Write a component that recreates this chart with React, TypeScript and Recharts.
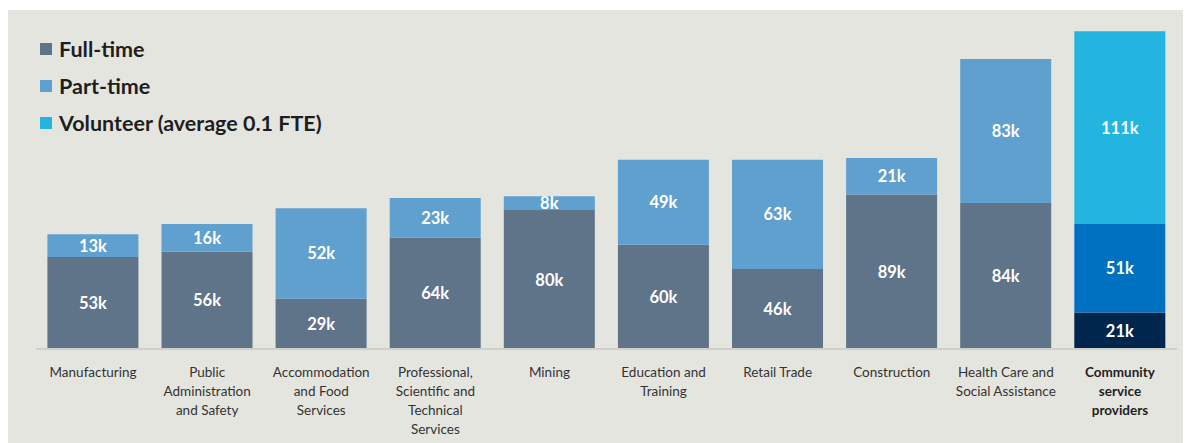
import React from "react";
import { BarChart, Bar, XAxis, YAxis, Legend, LabelList, Cell } from "recharts";

const categories = [
  "Manufacturing",
  "Public Administration and Safety",
  "Accommodation and Food Services",
  "Professional, Scientific and Technical Services",
  "Mining",
  "Education and Training",
  "Retail Trade",
  "Construction",
  "Health Care and Social Assistance",
  "Community service providers",
];
const tickLines: string[][] = [
  ["Manufacturing"],
  ["Public", "Administration", "and Safety"],
  ["Accommodation", "and Food", "Services"],
  ["Professional,", "Scientific and", "Technical", "Services"],
  ["Mining"],
  ["Education and", "Training"],
  ["Retail Trade"],
  ["Construction"],
  ["Health Care and", "Social Assistance"],
  ["Community", "service", "providers"],
];
const fullTime = [53, 56, 29, 64, 80, 60, 46, 89, 84, 21];
const partTime = [13, 16, 52, 23, 8, 49, 63, 21, 83, 51];
const volunteer = [0, 0, 0, 0, 0, 0, 0, 0, 0, 111];
const seriesNames = ["Full-time", "Part-time", "Volunteer (average 0.1 FTE)"];

const C_FT = "#5f7389";
const C_PT = "#5fa0cf";
const C_VOL = "#24b4e0";
const C_FT_HL = "#00264e";
const C_PT_HL = "#0071c0";
const HL_INDEX = 9;

const data = categories.map((c, i) => ({
  name: c,
  ft: fullTime[i],
  pt: partTime[i],
  vol: volunteer[i],
}));

const FONT = "Lato, 'Noto Sans', sans-serif";

const ValueLabel = (props: any) => {
  const { x, y, width, height, value } = props;
  if (!value) return null;
  return (
    <text
      x={x + width / 2}
      y={y + height / 2}
      dy={6}
      textAnchor="middle"
      fill="#ffffff"
      fontFamily={FONT}
      fontWeight={700}
      fontSize={16.5}
    >
      {`${value}k`}
    </text>
  );
};

const CategoryTick = (props: any) => {
  const { x, y, payload, index } = props;
  const lines = tickLines[index] || [String(payload.value)];
  const hl = index === HL_INDEX;
  return (
    <text
      x={x}
      y={y}
      textAnchor="middle"
      fill={hl ? "#1e1e1e" : "#333333"}
      fontFamily={FONT}
      fontWeight={hl ? 700 : 400}
      fontSize={13.5}
    >
      {lines.map((l, k) => (
        <tspan key={k} x={x} dy={k === 0 ? 28 : 19}>
          {l}
        </tspan>
      ))}
    </text>
  );
};

const LegendContent = () => {
  const cols = [C_FT, C_PT, C_VOL];
  return (
    <div style={{ fontFamily: FONT }}>
      {seriesNames.map((n, i) => (
        <div
          key={n}
          style={{
            display: "flex",
            alignItems: "center",
            height: 37,
            fontSize: 21.5,
            fontWeight: 700,
            color: "#1e1e1e",
            whiteSpace: "nowrap",
          }}
        >
          <span
            style={{
              display: "inline-block",
              width: 12,
              height: 12,
              background: cols[i],
              marginRight: 7,
            }}
          />
          {n}
        </div>
      ))}
    </div>
  );
};

export default function App() {
  return (
    <div style={{ marginTop: 2, width: 1183, height: 433, background: "#e5e5e0" }}>
      <BarChart
        width={1183}
        height={433}
        data={data}
        margin={{ top: 9, right: 14, left: 28, bottom: 0 }}
        barCategoryGap="10%"
      >
        <XAxis
          dataKey="name"
          height={94}
          tickLine={false}
          tickSize={0}
          tickMargin={0}
          axisLine={{ stroke: "#cfcfcb", strokeWidth: 2 }}
          interval={0}
          tick={<CategoryTick />}
        />
        <YAxis hide domain={[0, 190]} />
        <Legend
          layout="vertical"
          align="center"
          verticalAlign="middle"
          content={<LegendContent />}
          wrapperStyle={{ position: "absolute", top: 20, left: 32, width: 420, height: 120 }}
        />
        <Bar dataKey="ft" stackId="a" fill={C_FT} isAnimationActive={false}>
          {data.map((d, i) => (
            <Cell key={i} fill={i === HL_INDEX ? C_FT_HL : C_FT} />
          ))}
          <LabelList dataKey="ft" content={<ValueLabel />} />
        </Bar>
        <Bar dataKey="pt" stackId="a" fill={C_PT} isAnimationActive={false}>
          {data.map((d, i) => (
            <Cell key={i} fill={i === HL_INDEX ? C_PT_HL : C_PT} />
          ))}
          <LabelList dataKey="pt" content={<ValueLabel />} />
        </Bar>
        <Bar dataKey="vol" stackId="a" fill={C_VOL} isAnimationActive={false}>
          <LabelList dataKey="vol" content={<ValueLabel />} />
        </Bar>
      </BarChart>
    </div>
  );
}
